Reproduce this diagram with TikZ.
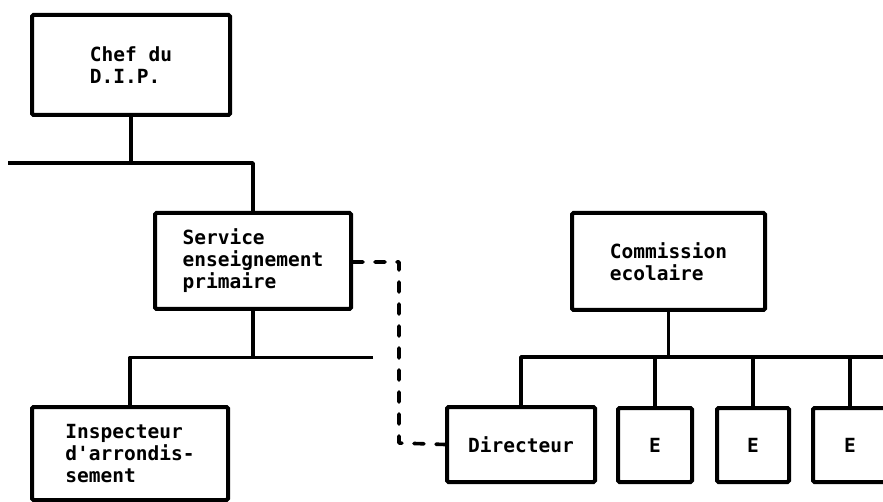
\documentclass[tikz,border=0pt]{standalone}
\usepackage{fontspec}
\newfontfamily\printfont{DejaVu Sans Mono}
\begin{document}
\begin{tikzpicture}[x=1pt,y=-1pt,
  orgbox/.style={draw=black, line width=4pt, rounded corners=1.5pt, fill=white,
    align=left, inner sep=0pt, font=\printfont\bfseries\fontsize{19.5}{22}\selectfont},
  link/.style={draw=black, line width=3.6pt, line join=round, line cap=butt},
  dotted link/.style={link, dash pattern=on 10pt off 12pt, line cap=round}]
\useasboundingbox (0,0) rectangle (883,502);
\clip (0,0) rectangle (883,502);
\fill[white] (0,0) rectangle (883,502);

% boxes
\node[orgbox, minimum width=198pt, minimum height=100pt] (chef) at (131,65) {Chef du\\D.I.P.};
\node[orgbox, minimum width=196pt, minimum height=96pt] (serv) at (253,261) {Service\\enseignement\\primaire};
\node[orgbox, minimum width=196pt, minimum height=93pt] (insp) at (130,453.5) {Inspecteur\\d'arrondis-\\sement};
\node[orgbox, minimum width=193pt, minimum height=97pt] (comm) at (668.5,261.5) {Commission\\ecolaire};
\node[orgbox, minimum width=148pt, minimum height=75pt] (dir) at (521,444.5) {Directeur};
\node[orgbox, minimum width=74pt, minimum height=74pt] (e1) at (655,445) {E};
\node[orgbox, minimum width=72pt, minimum height=74pt] (e2) at (753,445) {E};
\node[orgbox, minimum width=74pt, minimum height=74pt] (e3) at (850,445) {E};

% free ends of the branch lines
\coordinate (chefbarL) at (8,163);
\coordinate (servbarR) at (373,357.5);
\coordinate (commbarR) at (890,357);

% Chef du D.I.P. -> Service
\draw[link] (chef.south) -- (chef.south |- chefbarL);
\draw[link] (chefbarL) -| (serv.north);

% Service -> Inspecteur
\draw[link] (serv.south) -- (serv.south |- servbarR);
\draw[link] (servbarR) -| (insp.north);

% Commission scolaire -> Directeur and teachers
\draw[link] (comm.south) -- (comm.south |- commbarR);
\draw[link] (commbarR) -| (dir.north);
\draw[link] (e1.north) -- (e1.north |- commbarR);
\draw[link] (e2.north) -- (e2.north |- commbarR);
\draw[link] (e3.north) -- (e3.north |- commbarR);

% dashed liaison Service <-> Directeur
\draw[dotted link] ([yshift=-1pt]serv.east) -| (399,443) -- (dir.west);
\end{tikzpicture}
\end{document}
